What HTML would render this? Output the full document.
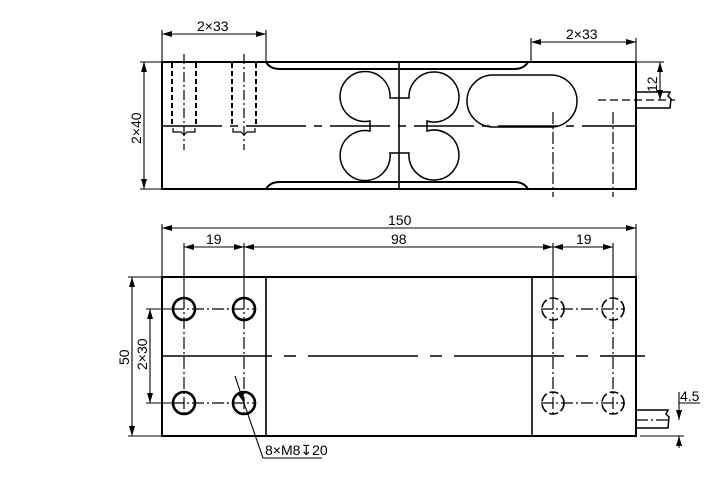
<!DOCTYPE html>
<html><head><meta charset="utf-8"><style>
html,body{margin:0;padding:0;background:#fff;}
svg{display:block;}
text{font-family:"Liberation Sans","DejaVu Sans",sans-serif;font-size:14px;fill:#000;}
</style></head><body>
<svg width="725" height="482" viewBox="0 0 725 482" xmlns="http://www.w3.org/2000/svg">
<defs>
<marker id="a" viewBox="0 0 10 6" refX="10" refY="3" markerWidth="10" markerHeight="6" orient="auto-start-reverse" markerUnits="userSpaceOnUse"><path d="M0,0L10,3L0,6Z" fill="#000"/></marker>
</defs>
<g fill="none" stroke="#000" stroke-width="2">
<!-- TOP VIEW -->
<path d="M162,62H636V189H162Z"/>
<path d="M266,62Q270,69 280,69H514Q524,69 528,62"/>
<path d="M266,189Q270,182 280,182H514Q524,182 528,189"/>
<line x1="399" y1="62" x2="399" y2="189" stroke-width="1.6"/>
<path d="M390,98A25,25 0 1 0 370,121L370,131A25,25 0 1 0 390,153L409,153A25,25 0 1 0 427,131L427,121A25,25 0 1 0 409,98Z" stroke-width="1.5"/>
<rect x="467" y="75" width="110" height="52" rx="26" stroke-width="1.5"/>
<line x1="162" y1="126" x2="636" y2="126" stroke-width="1.6" stroke-dasharray="60,8,8,8"/>
<g stroke-width="2" stroke-dasharray="5,3">
<line x1="172" y1="63" x2="172" y2="126"/><line x1="196" y1="63" x2="196" y2="126"/>
<line x1="232" y1="63" x2="232" y2="126"/><line x1="256" y1="63" x2="256" y2="126"/>
</g>
<g stroke-width="1.2">
<path d="M173,128v4h8l3,3l3,-3h8v-4"/><path d="M233,128v4h8l3,3l3,-3h8v-4"/>
<line x1="184" y1="54" x2="184" y2="150" stroke-dasharray="10,3,2,3"/>
<line x1="244" y1="54" x2="244" y2="150" stroke-dasharray="10,3,2,3"/>
<line x1="553" y1="112" x2="553" y2="197" stroke-dasharray="12,3,2,3"/>
<line x1="613" y1="112" x2="613" y2="197" stroke-dasharray="12,3,2,3"/>
<line x1="598" y1="100" x2="675" y2="100" stroke-dasharray="8,4"/>
</g>
<path d="M636,92H670l-2,4l3,3l-1,9H636" stroke-width="1.5"/>
<!-- top dims -->
<g stroke-width="1.1">
<line x1="162" y1="30" x2="162" y2="62"/><line x1="266" y1="30" x2="266" y2="62"/>
<line x1="162" y1="34" x2="266" y2="34" marker-start="url(#a)" marker-end="url(#a)"/>
<line x1="531" y1="38" x2="531" y2="62"/><line x1="636" y1="38" x2="636" y2="62"/>
<line x1="531" y1="42" x2="636" y2="42" marker-start="url(#a)" marker-end="url(#a)"/>
<line x1="140" y1="62" x2="162" y2="62"/><line x1="140" y1="189" x2="162" y2="189"/>
<line x1="144" y1="62" x2="144" y2="189" marker-start="url(#a)" marker-end="url(#a)"/>
<line x1="636" y1="62" x2="664" y2="62"/>
<line x1="660" y1="62" x2="660" y2="100" marker-start="url(#a)" marker-end="url(#a)"/>
</g>
<!-- BOTTOM VIEW -->
<path d="M162,277H636V436H162Z"/>
<line x1="266" y1="277" x2="266" y2="436" stroke-width="1.6"/>
<line x1="532" y1="277" x2="532" y2="436" stroke-width="1.6"/>
<line x1="162" y1="356" x2="645" y2="356" stroke-width="1.6" stroke-dasharray="110,12,12,12"/>
<g stroke-width="1.2" stroke-dasharray="12,3,2,3">
<line x1="172" y1="309" x2="256" y2="309"/><line x1="172" y1="403" x2="256" y2="403"/>
<line x1="541" y1="309" x2="625" y2="309"/><line x1="541" y1="403" x2="625" y2="403"/>
<line x1="184" y1="297" x2="184" y2="415"/><line x1="244" y1="297" x2="244" y2="415"/>
<line x1="553" y1="297" x2="553" y2="415"/><line x1="613" y1="297" x2="613" y2="415"/>
<line x1="636" y1="420" x2="668" y2="420"/>
</g>
<g stroke-width="2.6">
<circle cx="184" cy="309" r="11"/><circle cx="244" cy="309" r="11"/>
<circle cx="184" cy="403" r="11"/><circle cx="244" cy="403" r="11"/>
</g>
<g stroke-width="1.6" stroke-dasharray="9,3">
<circle cx="553" cy="309" r="11"/><circle cx="613" cy="309" r="11"/>
<circle cx="553" cy="403" r="11"/><circle cx="613" cy="403" r="11"/>
</g>
<path d="M636,410H668l-2,4l3,3l-1,11H636" stroke-width="1.5"/>
<!-- bottom dims -->
<g stroke-width="1.1">
<line x1="162" y1="224" x2="162" y2="277"/><line x1="636" y1="224" x2="636" y2="277"/>
<line x1="162" y1="228" x2="636" y2="228" marker-start="url(#a)" marker-end="url(#a)"/>
<line x1="184" y1="243" x2="184" y2="297"/><line x1="244" y1="243" x2="244" y2="297"/>
<line x1="553" y1="243" x2="553" y2="297"/><line x1="613" y1="243" x2="613" y2="297"/>
<line x1="184" y1="247" x2="244" y2="247" marker-start="url(#a)" marker-end="url(#a)"/>
<line x1="244" y1="247" x2="553" y2="247" marker-start="url(#a)" marker-end="url(#a)"/>
<line x1="553" y1="247" x2="613" y2="247" marker-start="url(#a)" marker-end="url(#a)"/>
<line x1="128" y1="277" x2="162" y2="277"/><line x1="128" y1="436" x2="162" y2="436"/>
<line x1="132" y1="277" x2="132" y2="436" marker-start="url(#a)" marker-end="url(#a)"/>
<line x1="146" y1="309" x2="172" y2="309"/><line x1="146" y1="403" x2="172" y2="403"/>
<line x1="150" y1="309" x2="150" y2="403" marker-start="url(#a)" marker-end="url(#a)"/>
<line x1="235" y1="376" x2="244" y2="403" marker-end="url(#a)"/>
<path d="M244,403L263,458H322"/>
<line x1="640" y1="436" x2="684" y2="436"/>
<line x1="679" y1="392" x2="679" y2="420" marker-end="url(#a)"/>
<line x1="679" y1="448" x2="679" y2="436" marker-end="url(#a)"/>
<line x1="679" y1="403" x2="700" y2="403"/>
</g>
</g>
<text x="197" y="31">2×33</text>
<text x="566" y="39">2×33</text>
<text transform="translate(141,144) rotate(-90)">2×40</text>
<text transform="translate(657,92) rotate(-90)">12</text>
<text x="388" y="225">150</text>
<text x="206" y="244">19</text>
<text x="391" y="244">98</text>
<text x="576" y="244">19</text>
<text transform="translate(129,365) rotate(-90)">50</text>
<text transform="translate(147,370) rotate(-90)">2×30</text>
<text x="265" y="455">8×M8↧20</text>
<text x="680" y="401">4.5</text>
</svg>
</body></html>
